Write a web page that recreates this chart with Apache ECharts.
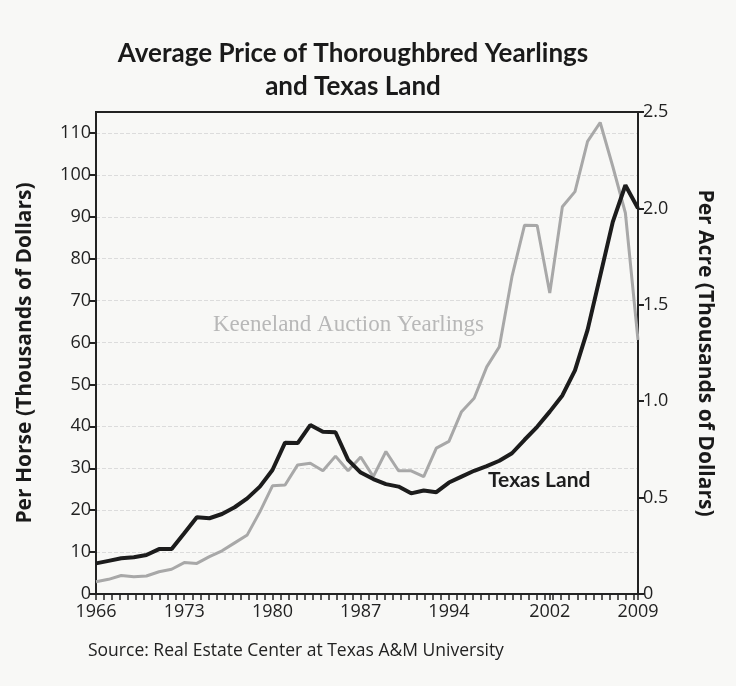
<!DOCTYPE html>
<html>
<head>
<meta charset="utf-8">
<script src="https://cdn.jsdelivr.net/npm/echarts@6/dist/echarts.min.js"></script>
<style>
  html, body { margin: 0; padding: 0; background: #f8f8f6; }
  #chart { width: 736px; height: 686px; }
</style>
</head>
<body>
<div id="chart"></div>
<script>
// years 1966 - 2009
var years = [];
for (var y = 1966; y <= 2009; y++) years.push(y);

// Keeneland auction yearlings, per horse (thousands of dollars)
var yearlingPrice = [
    2.9, 3.5, 4.4, 4.1, 4.3, 5.3, 5.9, 7.5, 7.3, 8.9,
    10.3, 12.2, 14.1, 19.6, 25.8, 26.0, 30.8, 31.2, 29.4, 32.9,
    29.4, 32.7, 28.0, 34.0, 29.4, 29.4, 28.0, 34.8, 36.4, 43.5,
    46.7, 54.2, 59.0, 75.7, 88.0, 87.9, 71.8, 92.4, 96.0, 108.0,
    112.5, 102.0, 90.9, 60.6
];

// Texas land, per acre (thousands of dollars)
var landPrice = [
    0.159, 0.172, 0.185, 0.191, 0.202, 0.233, 0.233, 0.315, 0.398, 0.393,
    0.415, 0.450, 0.496, 0.557, 0.643, 0.785, 0.783, 0.876, 0.841, 0.839,
    0.696, 0.630, 0.596, 0.570, 0.557, 0.522, 0.537, 0.528, 0.578, 0.609,
    0.639, 0.663, 0.691, 0.730, 0.800, 0.867, 0.946, 1.030, 1.160, 1.370,
    1.650, 1.930, 2.120, 2.000
];

var yearLabels = [1966, 1973, 1980, 1987, 1994, 2002, 2009];
var horseTicks = [0, 10, 20, 30, 40, 50, 60, 70, 80, 90, 100, 110];

// ticks along the bottom axis: the labelled years plus the small ones between
var yearTicks = yearLabels.slice();
for (var t = 1966 + 7 / 11; t < 2009; t += 7 / 11) yearTicks.push(t);

function pairs(xs, ys) {
    return xs.map(function(x, i) { return [x, ys[i]]; });
}

var chart = echarts.init(document.getElementById('chart'));

var option = {
    backgroundColor: '#f8f8f6',
    textStyle: { fontFamily: 'Open Sans' },
    title: {
        text: 'Average Price of Thoroughbred Yearlings\nand Texas Land',
        left: 348,
        top: 32,
        textAlign: 'center',
        textStyle: {
            fontFamily: 'Lato',
            fontWeight: 'bold',
            fontSize: 26,
            lineHeight: 33,
            color: '#1a1a1a'
        }
    },
    grid: {
        left: 96,
        right: 98,
        top: 112,
        bottom: 92,
        show: true,
        borderColor: '#222',
        borderWidth: 2,
        backgroundColor: 'transparent'
    },
    xAxis: {
        type: 'value',
        min: 1966,
        max: 2009,
        axisLine: { lineStyle: { color: '#222', width: 2 } },
        axisTick: { customValues: yearTicks, length: 6, lineStyle: { color: '#222', width: 1.5 } },
        axisLabel: {
            customValues: yearLabels,
            fontSize: 18,
            color: '#222',
            margin: 9,
            formatter: function(v) { return String(v); }
        },
        splitLine: { show: false }
    },
    yAxis: [{
        type: 'value',
        min: 0,
        max: 115,
        name: 'Per Horse (Thousands of Dollars)',
        nameLocation: 'middle',
        nameGap: 60,
        nameTextStyle: { fontFamily: 'Open Sans', fontWeight: 'bold', fontSize: 21, color: '#1a1a1a' },
        axisLine: { show: true, lineStyle: { color: '#222', width: 2 } },
        axisTick: { show: true, customValues: horseTicks, length: 6, lineStyle: { color: '#222', width: 2 } },
        axisLabel: { customValues: horseTicks, fontSize: 18, color: '#222', margin: 5 },
        splitLine: { show: true, lineStyle: { color: '#dcdcdc', type: 'dashed', width: 1 } }
    }, {
        type: 'value',
        min: 0,
        max: 2.5,
        interval: 0.5,
        position: 'right',
        name: 'Per Acre (Thousands of Dollars)',
        nameLocation: 'middle',
        nameGap: 56,
        nameRotate: -90,
        nameTextStyle: { fontFamily: 'Open Sans', fontWeight: 'bold', fontSize: 21, color: '#1a1a1a' },
        axisLine: { show: true, lineStyle: { color: '#222', width: 2 } },
        axisTick: { show: true, length: 6, lineStyle: { color: '#222', width: 2 } },
        axisLabel: {
            fontSize: 18,
            color: '#222',
            margin: 5,
            formatter: function(v) { return v === 0 ? '0' : v.toFixed(1); }
        },
        splitLine: { show: false }
    }],
    series: [{
        name: 'Keeneland Auction Yearlings',
        type: 'line',
        yAxisIndex: 0,
        data: pairs(years, yearlingPrice),
        showSymbol: false,
        lineStyle: { color: '#a8a8a8', width: 3 },
        z: 2
    }, {
        name: 'Texas Land',
        type: 'line',
        yAxisIndex: 1,
        data: pairs(years, landPrice),
        showSymbol: false,
        lineStyle: { color: '#1c1c1c', width: 4 },
        z: 3
    }],
    graphic: [{
        type: 'text',
        left: 213,
        top: 313,
        style: {
            text: 'Keeneland Auction Yearlings',
            font: '23px "Liberation Serif"',
            fill: '#b8b8b8'
        }
    }, {
        type: 'text',
        left: 488,
        top: 470,
        style: {
            text: 'Texas Land',
            font: 'bold 21px Lato',
            fill: '#1e1e1e'
        }
    }, {
        type: 'text',
        left: 88,
        top: 642,
        style: {
            text: 'Source: Real Estate Center at Texas A&M University',
            font: '17.5px "Open Sans"',
            fill: '#222'
        }
    }]
};

chart.setOption(option);
</script>
</body>
</html>
